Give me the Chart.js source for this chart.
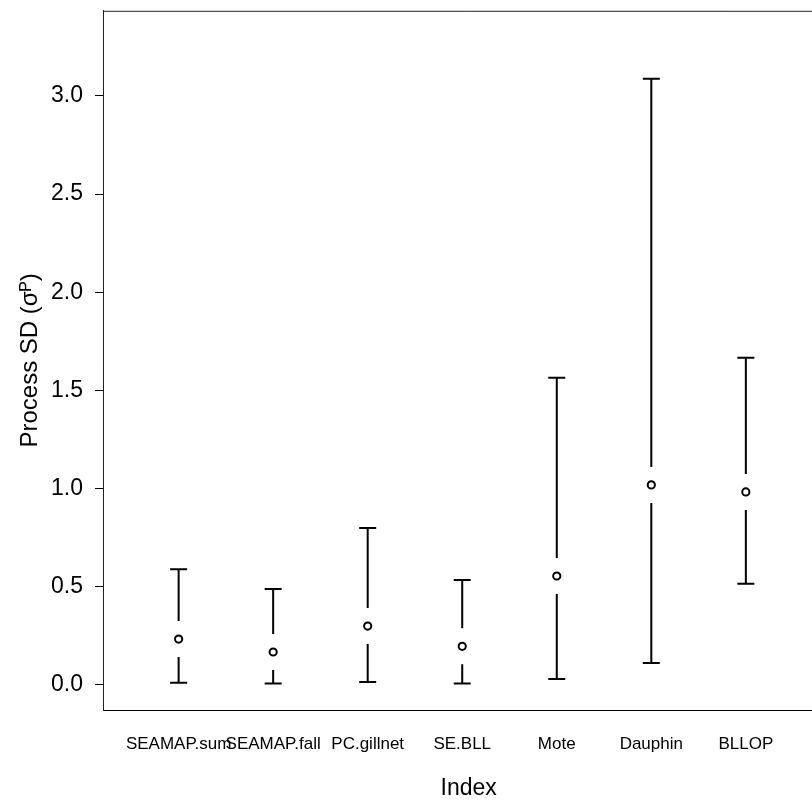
<!DOCTYPE html>
<html>
<head>
<meta charset="utf-8">
<script src="https://cdn.jsdelivr.net/npm/chart.js@4.4.1/dist/chart.umd.min.js"></script>
<style>
  html, body { margin: 0; padding: 0; background: #fff; overflow: hidden; }
  #wrap { width: 840px; height: 817px; margin-top: -15px; }
</style>
</head>
<body>
<div id="wrap"><canvas id="grafico"></canvas></div>
<script>
// Datos
const indices = ['SEAMAP.sum', 'SEAMAP.fall', 'PC.gillnet', 'SE.BLL', 'Mote', 'Dauphin', 'BLLOP'];
const estimado = [0.234, 0.168, 0.300, 0.197, 0.555, 1.019, 0.983];
const inferior = [0.012, 0.008, 0.015, 0.008, 0.030, 0.112, 0.515];
const superior = [0.590, 0.489, 0.800, 0.535, 1.564, 3.087, 1.666];
const ticksY = [0, 0.5, 1, 1.5, 2, 2.5, 3];

const fuente = "'Liberation Sans', Arial, sans-serif";

// Barras de error y caja exterior
const barrasError = {
  id: 'barrasError',
  afterDatasetsDraw(chart) {
    const ctx = chart.ctx;
    const x = chart.scales.x;
    const y = chart.scales.y;
    const area = chart.chartArea;
    const hueco = 18;
    const media = 8.5;
    ctx.save();
    ctx.strokeStyle = '#000';
    ctx.lineWidth = 2;
    ctx.lineCap = 'butt';
    indices.forEach((_, i) => {
      const px = x.getPixelForValue(i + 1);
      const pe = y.getPixelForValue(estimado[i]);
      const pl = y.getPixelForValue(inferior[i]);
      const pu = y.getPixelForValue(superior[i]);
      ctx.beginPath();
      if (pe - hueco > pu) {
        ctx.moveTo(px, pu);
        ctx.lineTo(px, pe - hueco);
      }
      if (pe + hueco < pl) {
        ctx.moveTo(px, pe + hueco);
        ctx.lineTo(px, pl);
      }
      ctx.moveTo(px - media, pu);
      ctx.lineTo(px + media, pu);
      ctx.moveTo(px - media, pl);
      ctx.lineTo(px + media, pl);
      ctx.stroke();
    });
    // caja
    ctx.strokeStyle = '#222';
    ctx.lineWidth = 1;
    ctx.beginPath();
    ctx.moveTo(area.left + 0.5, area.bottom);
    ctx.lineTo(area.left + 0.5, area.top + 0.5);
    ctx.lineTo(area.right, area.top + 0.5);
    ctx.stroke();
    ctx.restore();
  }
};

new Chart(document.getElementById('grafico'), {
  type: 'scatter',
  data: {
    datasets: [{
      data: estimado.map((v, i) => ({ x: i + 1, y: v })),
      pointStyle: 'circle',
      pointRadius: 3.6,
      pointBorderWidth: 2,
      pointBorderColor: '#000',
      pointBackgroundColor: '#fff',
      pointHoverRadius: 3.6
    }]
  },
  options: {
    responsive: true,
    maintainAspectRatio: false,
    animation: false,
    layout: { padding: { top: 0, right: 2, left: 0, bottom: 0 } },
    plugins: {
      legend: { display: false },
      tooltip: { enabled: false }
    },
    scales: {
      x: {
        type: 'linear',
        min: 0.2,
        max: 1 + (838 - 179) / 95,
        afterBuildTicks: scale => { scale.ticks = indices.map((_, i) => ({ value: i + 1 })); },
        afterFit: scale => { scale.height = 92; },
        grid: { display: false },
        border: { display: true, color: '#000', width: 1 },
        ticks: {
          autoSkip: false,
          maxRotation: 0,
          padding: 16,
          color: '#000',
          font: { family: fuente, size: 17 },
          callback: v => indices[Math.round(v) - 1] || ''
        },
        title: {
          display: true,
          text: 'Index',
          color: '#000',
          font: { family: fuente, size: 23 },
          padding: { top: 18, bottom: 0 }
        }
      },
      y: {
        min: -25 / 196.33,
        max: 674 / 196.33,
        afterBuildTicks: scale => { scale.ticks = ticksY.map(v => ({ value: v })); },
        afterFit: scale => { scale.width = 103; },
        grid: {
          drawOnChartArea: false,
          drawTicks: true,
          tickLength: 8,
          color: '#000',
          lineWidth: 1
        },
        border: { display: true, color: '#222', width: 1 },
        ticks: {
          padding: 12,
          color: '#000',
          font: { family: fuente, size: 23 },
          callback: v => v.toFixed(1)
        },
        title: {
          display: true,
          text: 'Process SD (σᴾ)',
          color: '#000',
          font: { family: fuente, size: 24 },
          padding: { top: 16, bottom: 6 }
        }
      }
    }
  },
  plugins: [barrasError]
});
</script>
</body>
</html>
